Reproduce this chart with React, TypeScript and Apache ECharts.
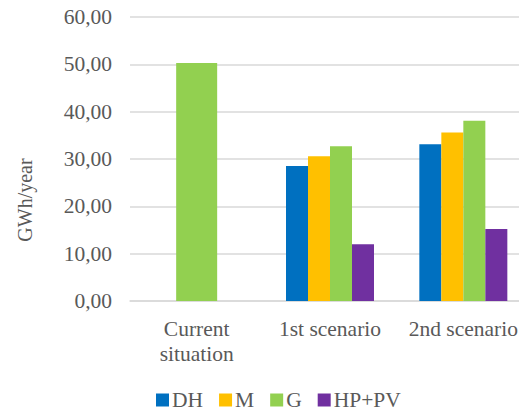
import React, { useEffect, useRef } from "react";
import * as echarts from "echarts";

const categories = ["Current\nsituation", "1st scenario", "2nd scenario"];
const dh = ["-", 28.5, 33.1];
const m = ["-", 30.6, 35.6];
const g = ["-", 32.7, 38.1];
const hppv = ["-", 12.0, 15.2];
const current = [50.3, "-", "-"];
const seriesNames = ["DH", "M", "G", "HP+PV"];
const colors = ["#0070C0", "#FFC000", "#92D050", "#7030A0"];

const FONT = "Liberation Serif";
const TXT = "#595959";
const FS = 21.5;

export default function App() {
  const ref = useRef<HTMLDivElement>(null);
  useEffect(() => {
    if (!ref.current) return;
    const chart = echarts.init(ref.current, null, { renderer: "svg" });
    const fmt = (v: number) => v.toFixed(2).replace(".", ",");
    const datas = [dh, m, g, hppv];
    chart.setOption({
      animation: false,
      textStyle: { fontFamily: FONT, color: TXT },
      grid: { left: 130, top: 17, width: 400, height: 284 },
      legend: {
        data: seriesNames,
        top: 389,
        left: 156,
        padding: 0,
        itemWidth: 13,
        itemHeight: 13,
        itemGap: 16,
        icon: "rect",
        textStyle: { fontFamily: FONT, color: TXT, fontSize: FS, padding: [0, 0, 0, -2] },
      },
      xAxis: [
        {
          type: "category",
          data: categories,
          axisLine: { lineStyle: { color: "#d9d9d9", width: 1.5 } },
          axisTick: { show: false },
          axisLabel: {
            interval: 0,
            hideOverlap: false,
            fontFamily: FONT,
            color: TXT,
            fontSize: FS,
            margin: 15,
            lineHeight: 25,
          },
        },
        {
          type: "category",
          data: categories,
          show: false,
        },
      ],
      yAxis: {
        type: "value",
        min: 0,
        max: 60,
        interval: 10,
        axisLine: { show: false },
        axisTick: { show: false },
        splitLine: { lineStyle: { color: "#d9d9d9", width: 1.5 } },
        axisLabel: { fontFamily: FONT, color: TXT, fontSize: FS, margin: 18, formatter: fmt },
      },
      graphic: [
        {
          type: "text",
          x: 25,
          y: 200,
          rotation: Math.PI / 2,
          style: {
            text: "GWh/year",
            fontFamily: FONT,
            fontSize: 20,
            fill: TXT,
            align: "center",
            verticalAlign: "middle",
          },
        },
      ],
      series: [
        ...datas.map((d, i) => ({
          name: seriesNames[i],
          type: "bar",
          data: d,
          barWidth: 22,
          barGap: "0%",
          itemStyle: { color: colors[i] },
        })),
        {
          name: "G",
          type: "bar",
          xAxisIndex: 1,
          data: current,
          barWidth: 41,
          itemStyle: { color: colors[2] },
        },
      ],
    });
    return () => chart.dispose();
  }, []);
  return (
    <div
      style={{ position: "absolute", left: 0, top: 0, width: 519, height: 412, overflow: "hidden" }}
    >
      <div ref={ref} style={{ width: 540, height: 412 }} />
    </div>
  );
}
